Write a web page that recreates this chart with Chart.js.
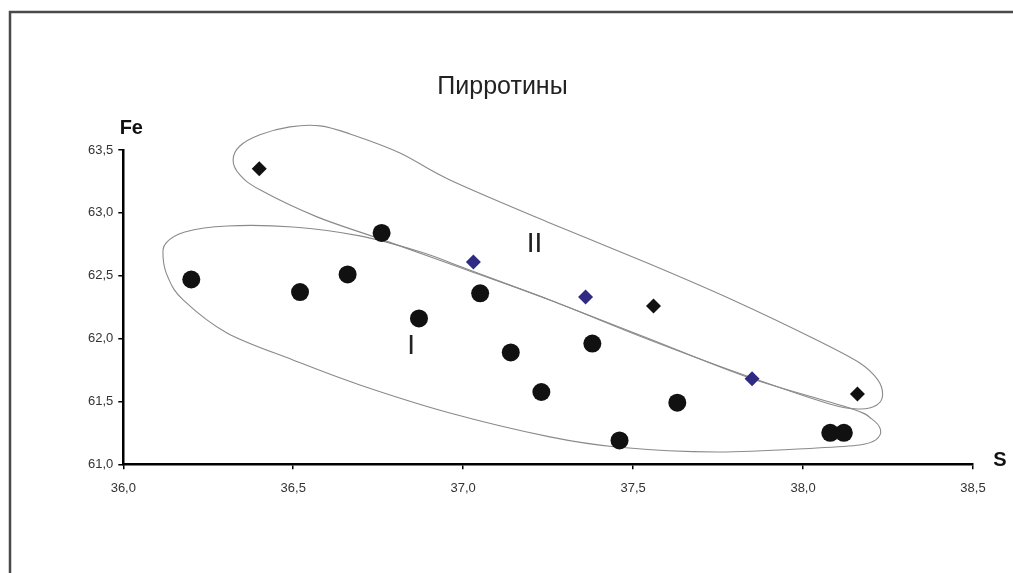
<!DOCTYPE html>
<html>
<head>
<meta charset="utf-8">
<script src="https://cdn.jsdelivr.net/npm/chart.js@4.4.0/dist/chart.umd.min.js"></script>
<style>
html, body { margin: 0; padding: 0; background: #fff; }
</style>
</head>
<body>
<canvas id="chart" width="1013" height="573"></canvas>
<script>
// Пирротины: S (ось X) против Fe (ось Y)
const xTicks = [36.0, 36.5, 37.0, 37.5, 38.0, 38.5];
const yTicks = [61.0, 61.5, 62.0, 62.5, 63.0, 63.5];

// группа I - кружки
const circleS  = [36.20, 36.52, 36.66, 36.76, 36.87, 37.05, 37.14, 37.23, 37.38, 37.46, 37.63, 38.08, 38.12];
const circleFe = [62.47, 62.37, 62.51, 62.84, 62.16, 62.36, 61.89, 61.575, 61.96, 61.19, 61.49, 61.25, 61.25];

// группа II - чёрные и синие ромбы
const blackS  = [36.40, 37.56, 38.16];
const blackFe = [63.35, 62.26, 61.56];
const blueS   = [37.03, 37.36, 37.85];
const blueFe  = [62.61, 62.33, 61.68];

// контур поля I
const fieldI_S  = [36.117, 36.126, 36.181, 36.305, 36.499, 36.696, 36.873, 37.011, 37.255, 37.549, 37.843, 38.137, 38.202,
                   38.228, 38.214, 38.167, 38.040, 37.746, 37.452, 37.255, 36.961, 36.696, 36.499, 36.305, 36.176, 36.132];
const fieldI_Fe = [62.649, 62.761, 62.848, 62.896, 62.888, 62.817, 62.690, 62.554, 62.307, 61.997, 61.687, 61.448, 61.361,
                   61.273, 61.194, 61.154, 61.130, 61.098, 61.138, 61.218, 61.408, 61.631, 61.830, 62.045, 62.308, 62.483];

// контур поля II
const fieldII_S  = [36.323, 36.343, 36.402, 36.490, 36.579, 36.667, 36.814, 36.961, 37.255, 37.549, 37.793, 38.040, 38.167,
                    38.220, 38.234, 38.217, 38.167, 38.078, 37.843, 37.549, 37.255, 37.011, 36.764, 36.570, 36.402, 36.343];
const fieldII_Fe = [63.421, 63.532, 63.621, 63.684, 63.692, 63.628, 63.477, 63.262, 62.920, 62.593, 62.307, 61.989, 61.806,
                    61.671, 61.551, 61.472, 61.440, 61.480, 61.694, 61.989, 62.307, 62.546, 62.785, 62.968, 63.183, 63.302];

// подписи полей
const fieldLabels = [
    { text: 'I',  s: 36.847, fe: 61.94 },
    { text: 'II', s: 37.21,  fe: 62.75 }
];

const toXY = (xs, ys) => xs.map((x, i) => ({ x: x, y: ys[i] }));
const fmt = v => Number(v).toFixed(1).replace('.', ',');

// фон и рамка
const framePlugin = {
    id: 'frame',
    beforeDraw(chart) {
        const ctx = chart.ctx;
        ctx.save();
        ctx.fillStyle = '#fff';
        ctx.fillRect(0, 0, chart.width, chart.height);
        ctx.strokeStyle = '#4a4a4a';
        ctx.lineWidth = 2.5;
        ctx.beginPath();
        ctx.moveTo(10, chart.height + 5);
        ctx.lineTo(10, 12);
        ctx.lineTo(chart.width + 5, 12);
        ctx.stroke();
        ctx.restore();
    }
};

// замкнутые контуры полей (сплайн по точкам в единицах осей)
function drawField(chart, xs, ys) {
    const sx = chart.scales.x, sy = chart.scales.y;
    const p = xs.map((v, i) => [sx.getPixelForValue(v), sy.getPixelForValue(ys[i])]);
    const n = p.length;
    const ctx = chart.ctx;
    ctx.beginPath();
    ctx.moveTo(p[0][0], p[0][1]);
    for (let i = 0; i < n; i++) {
        const p0 = p[(i - 1 + n) % n], p1 = p[i], p2 = p[(i + 1) % n], p3 = p[(i + 2) % n];
        ctx.bezierCurveTo(
            p1[0] + (p2[0] - p0[0]) / 6, p1[1] + (p2[1] - p0[1]) / 6,
            p2[0] - (p3[0] - p1[0]) / 6, p2[1] - (p3[1] - p1[1]) / 6,
            p2[0], p2[1]);
    }
    ctx.closePath();
    ctx.stroke();
}

const fieldsPlugin = {
    id: 'fields',
    beforeDatasetsDraw(chart) {
        const ctx = chart.ctx;
        ctx.save();
        ctx.strokeStyle = '#8a8a8a';
        ctx.lineWidth = 1.1;
        drawField(chart, fieldI_S, fieldI_Fe);
        drawField(chart, fieldII_S, fieldII_Fe);
        ctx.restore();
    },
    afterDraw(chart) {
        const ctx = chart.ctx;
        const a = chart.chartArea;
        ctx.save();
        ctx.textAlign = 'center';
        ctx.textBaseline = 'middle';
        ctx.fillStyle = '#111';
        ctx.font = 'bold 20px "Liberation Sans", Arial, sans-serif';
        ctx.fillText('Fe', a.left + 8, a.top - 22);
        ctx.fillText('S', a.right + 27, a.bottom - 4);
        ctx.font = '28px "Liberation Sans", Arial, sans-serif';
        ctx.fillStyle = '#222';
        fieldLabels.forEach(l => {
            ctx.fillText(l.text, chart.scales.x.getPixelForValue(l.s), chart.scales.y.getPixelForValue(l.fe));
        });
        ctx.restore();
    }
};

const tickFont = { family: '"Liberation Sans", Arial, sans-serif', size: 13 };

new Chart(document.getElementById('chart'), {
    type: 'scatter',
    data: {
        datasets: [
            {
                label: 'I',
                data: toXY(circleS, circleFe),
                pointStyle: 'circle',
                pointRadius: 9,
                pointBackgroundColor: '#111',
                pointBorderWidth: 0
            },
            {
                label: 'II',
                data: toXY(blackS, blackFe),
                pointStyle: 'rectRot',
                pointRadius: 7.5,
                pointBackgroundColor: '#111',
                pointBorderWidth: 0
            },
            {
                label: 'II (синие)',
                data: toXY(blueS, blueFe),
                pointStyle: 'rectRot',
                pointRadius: 7.5,
                pointBackgroundColor: '#2f2b84',
                pointBorderWidth: 0
            }
        ]
    },
    options: {
        responsive: false,
        animation: false,
        events: [],
        layout: { padding: { left: 32, right: 40, top: 0, bottom: 68.7 } },
        plugins: {
            legend: { display: false },
            tooltip: { enabled: false },
            title: {
                display: true,
                text: 'Пирротины',
                color: '#222',
                font: { family: '"Liberation Sans", Arial, sans-serif', size: 25, weight: 'normal', lineHeight: 1.2 },
                padding: { top: 72, bottom: 48 }
            }
        },
        scales: {
            x: {
                type: 'linear',
                min: 36.0,
                max: 38.5,
                afterFit: s => { s.height = 40; },
                afterBuildTicks: s => { s.ticks = xTicks.map(v => ({ value: v })); },
                ticks: { callback: fmt, color: '#333', font: tickFont, padding: 11, maxRotation: 0 },
                grid: { display: true, drawOnChartArea: false, drawTicks: true, tickLength: 5, color: '#000', lineWidth: 1.5 },
                border: { display: true, color: '#000', width: 2.5 }
            },
            y: {
                type: 'linear',
                min: 61.0,
                max: 63.5,
                afterFit: s => { s.width = 91.3; },
                afterBuildTicks: s => { s.ticks = yTicks.map(v => ({ value: v })); },
                ticks: { callback: fmt, color: '#333', font: tickFont, padding: 5 },
                grid: { display: true, drawOnChartArea: false, drawTicks: true, tickLength: 5, color: '#000', lineWidth: 1.5 },
                border: { display: true, color: '#000', width: 2.5 }
            }
        }
    },
    plugins: [framePlugin, fieldsPlugin]
});
</script>
</body>
</html>
